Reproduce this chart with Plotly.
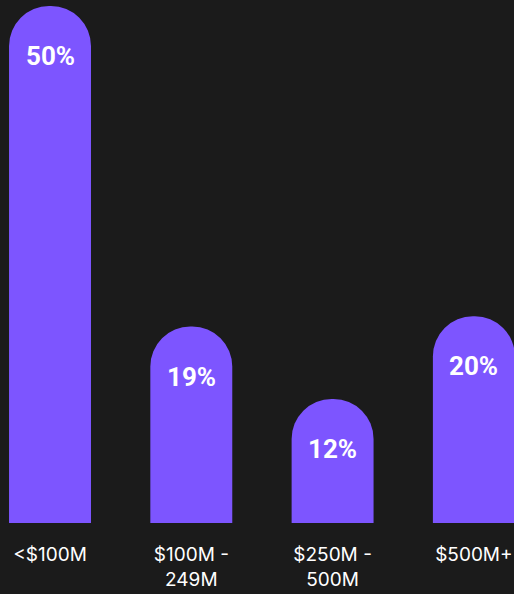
import plotly.graph_objects as go

# Share of companies by revenue band
categories = ["<$100M", "$100M -<br>249M", "$250M -<br>500M", "$500M+"]
shares = [50, 19, 12, 20]

BG = "#1b1b1b"
BAR = "#7d55ff"

positions = list(range(len(categories)))

fig = go.Figure(
    go.Bar(
        x=positions,
        y=shares,
        width=0.58,
        marker=dict(color=BAR, cornerradius="50%", line=dict(width=0)),
        hoverinfo="skip",
    )
)

# Percentage labels placed just below the rounded top of each bar
for x, v in zip(positions, shares):
    fig.add_annotation(
        x=x, y=v, yshift=-50,
        text=f"{v}%",
        showarrow=False,
        xanchor="center", yanchor="middle",
        font=dict(family="Roboto", size=26, color="white", weight="bold"),
    )

fig.update_layout(
    width=514, height=594,
    paper_bgcolor=BG, plot_bgcolor=BG,
    margin=dict(l=0, r=0, t=0, b=71),
    showlegend=False,
    xaxis=dict(
        range=[-0.354, 3.284],
        tickvals=positions,
        ticktext=categories,
        showgrid=False, zeroline=False, showline=False,
        ticks="",
        ticklabelstandoff=18,
        tickfont=dict(family="Inter", size=19, color="white"),
        fixedrange=True,
    ),
    yaxis=dict(
        range=[0, 50.58],
        visible=False,
        fixedrange=True,
    ),
)

fig.write_html("out.html")
